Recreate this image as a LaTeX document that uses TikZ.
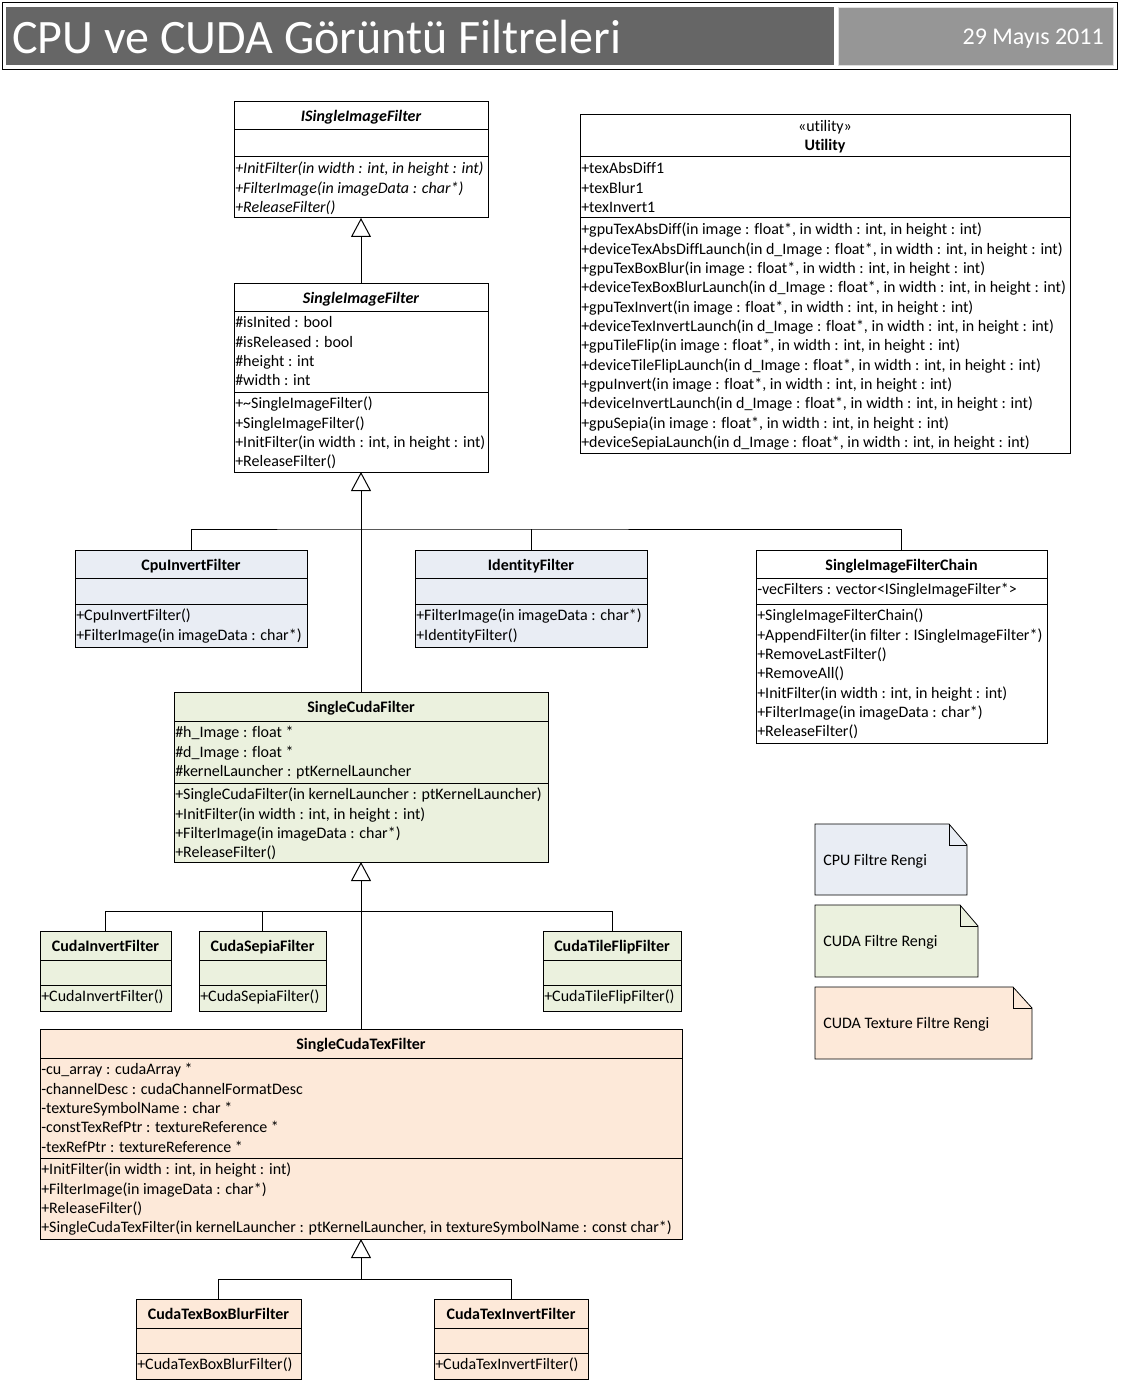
\documentclass[tikz,border=0pt]{standalone}
\usepackage{fontspec}
\setmainfont{Carlito}[Ligatures={NoCommon}]
\usetikzlibrary{arrows.meta,fit}
\definecolor{cpuc}{HTML}{E9EDF4}
\definecolor{cudac}{HTML}{EBF1DE}
\definecolor{texc}{HTML}{FDE9D9}
\definecolor{hdark}{HTML}{666666}
\definecolor{hlight}{HTML}{969696}
\newcommand\fnt{\fontsize{12}{14.5}\selectfont}
\tikzset{
 box/.style={draw=black, line width=0.75pt, inner sep=0pt, outer sep=0pt},
 sep/.style={draw=black, line width=0.75pt},
 ttl/.style={anchor=base, inner sep=0pt, yshift=-0.75pt, font=\fnt\bfseries},
 ttli/.style={anchor=base, inner sep=0pt, yshift=-0.75pt, font=\fnt\bfseries\itshape},
 txt/.style={anchor=north west, inner sep=0pt, yshift=-0.75pt, align=left, font=\fnt},
 txti/.style={anchor=north west, inner sep=0pt, yshift=-0.75pt, align=left, font=\fnt\itshape},
 inh/.style={line width=0.75pt, -{Triangle[length=14.25pt,width=15pt,fill=white]}},
 conn/.style={line width=0.75pt},
 note/.style={draw=black, line width=0.6pt},
 notetxt/.style={anchor=base west, inner sep=0pt, yshift=-0.75pt, font=\fnt},
}
\begin{document}
\begin{tikzpicture}[x=0.75pt,y=-0.75pt]
\useasboundingbox (0,0) rectangle (1120,1380);
\fill[white] (0,0) rectangle (1120,1380);
% header
\node[draw=black, line width=0.75pt, inner sep=0pt, fit={(2,3) (1117,70)}] (hdr) {};
\node[fill=hdark, inner sep=0pt, fit={(6,7) (834,65)}] (hdrl) {};
\node[fill=hlight, draw=black!12, line width=0.5pt, inner sep=0pt, fit={(838,7) (1113,65)}] (hdrr) {};
\node[anchor=base west, inner sep=0pt, text=white, font=\fontsize{36}{40}\selectfont] (title) at (12,54) {CPU ve CUDA Görüntü Filtreleri};
\node[anchor=base east, inner sep=0pt, text=white, font=\fontsize{18}{22}\selectfont] (date) at (1104,45) {29 Mayıs 2011};

% ISingleImageFilter
\node[box, fill=white, fit={(234,102) (488,218)}] (isif) {};
\draw[sep] (234,130) -- (488,130);
\draw[sep] (234,157) -- (488,157);
\node[ttli] (isif-t) at (361,121) {ISingleImageFilter};
\node[txti] (isif-m) at (235,159) {\strut+InitFilter(in width : int, in height : int)\\\strut+FilterImage(in imageData : char*)\\\strut+ReleaseFilter()};

% SingleImageFilter
\node[box, fill=white, fit={(234,283) (488,472)}] (sif) {};
\draw[sep] (234,311) -- (488,311);
\draw[sep] (234,392) -- (488,392);
\node[ttli] (sif-t) at (361,302) {SingleImageFilter};
\node[txt] (sif-a) at (235,313) {\strut\#isInited : bool\\\strut\#isReleased : bool\\\strut\#height : int\\\strut\#width : int};
\node[txt] (sif-m) at (235,394) {\strut+\textasciitilde SingleImageFilter()\\\strut+SingleImageFilter()\\\strut+InitFilter(in width : int, in height : int)\\\strut+ReleaseFilter()};

% Utility
\node[box, fill=white, fit={(580,115) (1070,453)}] (util) {};
\draw[sep] (580,157) -- (1070,157);
\draw[sep] (580,218) -- (1070,218);
\node[anchor=base, inner sep=0pt, yshift=-0.75pt, font=\fnt] (util-s) at (825,131) {«utility»};
\node[ttl] (util-t) at (825,150) {Utility};
\node[txt] (util-a) at (581,159) {\strut+texAbsDiff1\\\strut+texBlur1\\\strut+texInvert1};
\node[txt] (util-m) at (581,220) {\strut+gpuTexAbsDiff(in image : float*, in width : int, in height : int)\\
\strut+deviceTexAbsDiffLaunch(in d\_Image : float*, in width : int, in height : int)\\
\strut+gpuTexBoxBlur(in image : float*, in width : int, in height : int)\\
\strut+deviceTexBoxBlurLaunch(in d\_Image : float*, in width : int, in height : int)\\
\strut+gpuTexInvert(in image : float*, in width : int, in height : int)\\
\strut+deviceTexInvertLaunch(in d\_Image : float*, in width : int, in height : int)\\
\strut+gpuTileFlip(in image : float*, in width : int, in height : int)\\
\strut+deviceTileFlipLaunch(in d\_Image : float*, in width : int, in height : int)\\
\strut+gpuInvert(in image : float*, in width : int, in height : int)\\
\strut+deviceInvertLaunch(in d\_Image : float*, in width : int, in height : int)\\
\strut+gpuSepia(in image : float*, in width : int, in height : int)\\
\strut+deviceSepiaLaunch(in d\_Image : float*, in width : int, in height : int)};

% CpuInvertFilter
\node[box, fill=cpuc, fit={(75,550) (307,647)}] (cpuinv) {};
\draw[sep] (75,578) -- (307,578);
\draw[sep] (75,604) -- (307,604);
\node[ttl] (cpuinv-t) at (191,569) {CpuInvertFilter};
\node[txt] (cpuinv-m) at (76,606) {\strut+CpuInvertFilter()\\\strut+FilterImage(in imageData : char*)};

% IdentityFilter
\node[box, fill=cpuc, fit={(415,550) (647,647)}] (ident) {};
\draw[sep] (415,578) -- (647,578);
\draw[sep] (415,604) -- (647,604);
\node[ttl] (ident-t) at (531,569) {IdentityFilter};
\node[txt] (ident-m) at (416,606) {\strut+FilterImage(in imageData : char*)\\\strut+IdentityFilter()};

% SingleImageFilterChain
\node[box, fill=white, fit={(756,550) (1047,743)}] (chain) {};
\draw[sep] (756,578) -- (1047,578);
\draw[sep] (756,604) -- (1047,604);
\node[ttl] (chain-t) at (901.5,569) {SingleImageFilterChain};
\node[txt] (chain-a) at (757,580) {\strut-vecFilters : vector<ISingleImageFilter*>};
\node[txt] (chain-m) at (757,606) {\strut+SingleImageFilterChain()\\\strut+AppendFilter(in filter : ISingleImageFilter*)\\\strut+RemoveLastFilter()\\\strut+RemoveAll()\\\strut+InitFilter(in width : int, in height : int)\\\strut+FilterImage(in imageData : char*)\\\strut+ReleaseFilter()};

% SingleCudaFilter
\node[box, fill=cudac, fit={(174,692) (548,862)}] (scf) {};
\draw[sep] (174,721) -- (548,721);
\draw[sep] (174,783) -- (548,783);
\node[ttl] (scf-t) at (361,711) {SingleCudaFilter};
\node[txt] (scf-a) at (175,723) {\strut\#h\_Image : float *\\\strut\#d\_Image : float *\\\strut\#kernelLauncher : ptKernelLauncher};
\node[txt] (scf-m) at (175,785) {\strut+SingleCudaFilter(in kernelLauncher : ptKernelLauncher)\\\strut+InitFilter(in width : int, in height : int)\\\strut+FilterImage(in imageData : char*)\\\strut+ReleaseFilter()};

% CudaInvertFilter
\node[box, fill=cudac, fit={(40,931) (171,1011)}] (cinv) {};
\draw[sep] (40,960) -- (171,960);
\draw[sep] (40,985) -- (171,985);
\node[ttl] (cinv-t) at (105.5,950) {CudaInvertFilter};
\node[txt] (cinv-m) at (41,987) {\strut+CudaInvertFilter()};

% CudaSepiaFilter
\node[box, fill=cudac, fit={(199,931) (326,1011)}] (csep) {};
\draw[sep] (199,960) -- (326,960);
\draw[sep] (199,985) -- (326,985);
\node[ttl] (csep-t) at (262.5,950) {CudaSepiaFilter};
\node[txt] (csep-m) at (200,987) {\strut+CudaSepiaFilter()};

% CudaTileFlipFilter
\node[box, fill=cudac, fit={(543,931) (681,1011)}] (ctile) {};
\draw[sep] (543,960) -- (681,960);
\draw[sep] (543,985) -- (681,985);
\node[ttl] (ctile-t) at (612,950) {CudaTileFlipFilter};
\node[txt] (ctile-m) at (544,987) {\strut+CudaTileFlipFilter()};

% SingleCudaTexFilter
\node[box, fill=texc, fit={(40,1029) (682,1239)}] (sctf) {};
\draw[sep] (40,1058) -- (682,1058);
\draw[sep] (40,1158) -- (682,1158);
\node[ttl] (sctf-t) at (361,1048) {SingleCudaTexFilter};
\node[txt] (sctf-a) at (41,1060) {\strut-cu\_array : cudaArray *\\\strut-channelDesc : cudaChannelFormatDesc\\\strut-textureSymbolName : char *\\\strut-constTexRefPtr : textureReference *\\\strut-texRefPtr : textureReference *};
\node[txt] (sctf-m) at (41,1160) {\strut+InitFilter(in width : int, in height : int)\\\strut+FilterImage(in imageData : char*)\\\strut+ReleaseFilter()\\\strut+SingleCudaTexFilter(in kernelLauncher : ptKernelLauncher, in textureSymbolName : const char*)};

% CudaTexBoxBlurFilter
\node[box, fill=texc, fit={(136,1299) (301,1379)}] (cblur) {};
\draw[sep] (136,1328) -- (301,1328);
\draw[sep] (136,1353) -- (301,1353);
\node[ttl] (cblur-t) at (218.5,1318) {CudaTexBoxBlurFilter};
\node[txt] (cblur-m) at (137,1355) {\strut+CudaTexBoxBlurFilter()};

% CudaTexInvertFilter
\node[box, fill=texc, fit={(434,1299) (588,1379)}] (ctinv) {};
\draw[sep] (434,1328) -- (588,1328);
\draw[sep] (434,1353) -- (588,1353);
\node[ttl] (ctinv-t) at (511,1318) {CudaTexInvertFilter};
\node[txt] (ctinv-m) at (435,1355) {\strut+CudaTexInvertFilter()};

% connectors
\draw[inh] (sif.north) -- (isif.south);
\draw[inh] (scf.north) -- (sif.south);
\coordinate (bus1) at (361,529);
\draw[conn] (cpuinv.north) |- (bus1) -| (chain.north);
\draw[conn] (ident.north) -- (ident.north |- bus1);
\draw[inh] (sctf.north) -- (scf.south);
\coordinate (bus2) at (361,911);
\draw[conn] (cinv.north) |- (bus2) -| (ctile.north);
\draw[conn] (csep.north) -- (csep.north |- bus2);
\coordinate (bus3) at (361,1279);
\draw[inh] (bus3) -- (sctf.south);
\draw[conn] (cblur.north) |- (bus3) -| (ctinv.north);

% notes
\path[note, fill=cpuc] (815,824) -- (949,824) -- (967,845) -- (967,895) -- (815,895) -- cycle;
\draw[note] (949,824) -- (949,845) -- (967,845);
\node[notetxt] (n1) at (823,864) {CPU Filtre Rengi};
\path[note, fill=cudac] (815,905) -- (960,905) -- (978,926) -- (978,977) -- (815,977) -- cycle;
\draw[note] (960,905) -- (960,926) -- (978,926);
\node[notetxt] (n2) at (823,945) {CUDA Filtre Rengi};
\path[note, fill=texc] (815,987) -- (1013,987) -- (1032,1008) -- (1032,1059) -- (815,1059) -- cycle;
\draw[note] (1013,987) -- (1013,1008) -- (1032,1008);
\node[notetxt] (n3) at (823,1027) {CUDA Texture Filtre Rengi};
\end{tikzpicture}
\end{document}
